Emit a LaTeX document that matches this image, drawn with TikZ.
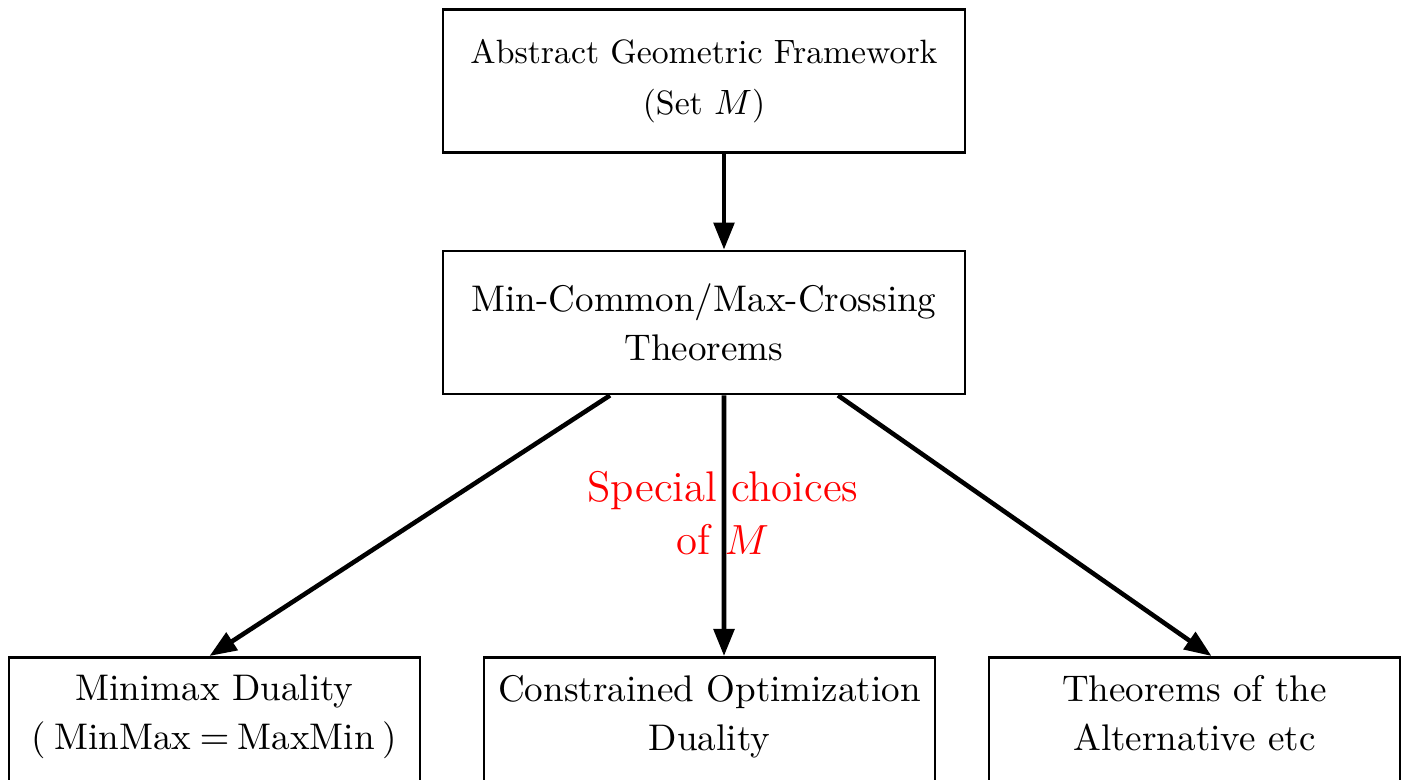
\documentclass[tikz,border=0pt]{standalone}
\usepackage{amsmath}
\usepackage{amssymb}
\usepackage{xcolor}
\usetikzlibrary{arrows.meta}

\begin{document}
\begin{tikzpicture}[box/.style={draw, thick, align=center, font=\fontsize{10.55pt}{14pt}\selectfont},
  arr/.style={line width=1.3pt, -{Triangle[length=7.7pt,width=5.8pt]}}]
 \useasboundingbox (0,0) rectangle (14.06,-7.80);

 \node [box, minimum width=5.22cm, minimum height=1.43cm, font=\fontsize{9.6pt}{14.4pt}\selectfont] (frame) at (7.04,-0.81) {Abstract Geometric Framework\\(Set $M$)};
 \node [box, minimum width=5.22cm, minimum height=1.43cm] (mcmc) at (7.04,-3.225) {Min-Common/Max-Crossing\\Theorems};

 % bottom row, cut off by the bounding box
 \node [box, anchor=north, minimum width=4.11cm, inner ysep=5pt, text depth=1.3cm] (minimax) at (2.145,-6.56) {Minimax Duality\\(\hspace{.22em}MinMax\hspace{.22em}$=$\hspace{.22em}MaxMin\hspace{.22em})};
 \node [box, anchor=north, minimum width=4.51cm, inner ysep=5pt, text depth=1.3cm] (constr) at (7.095,-6.56) {Constrained Optimization\\Duality};
 \node [box, anchor=north, minimum width=4.11cm, inner ysep=5pt, text depth=1.3cm] (altern) at (11.945,-6.56) {Theorems of the\\Alternative etc};

 \draw [arr] ([xshift=2mm]frame.south) -- ([xshift=2mm]mcmc.north);
 \draw [arr] ([xshift=-9.4mm]mcmc.south) -- ([xshift=-0.5mm]minimax.north);
 \draw [arr] ([xshift=2mm]mcmc.south) -- ([xshift=1.45mm]constr.north);
 \draw [arr] ([xshift=13.4mm]mcmc.south) -- ([xshift=1.7mm]altern.north);

 \node [red, align=center, font=\fontsize{12.2pt}{15pt}\selectfont] (choice) at (7.23,-5.13) {Special choices\\of $M$};
\end{tikzpicture}
\end{document}
